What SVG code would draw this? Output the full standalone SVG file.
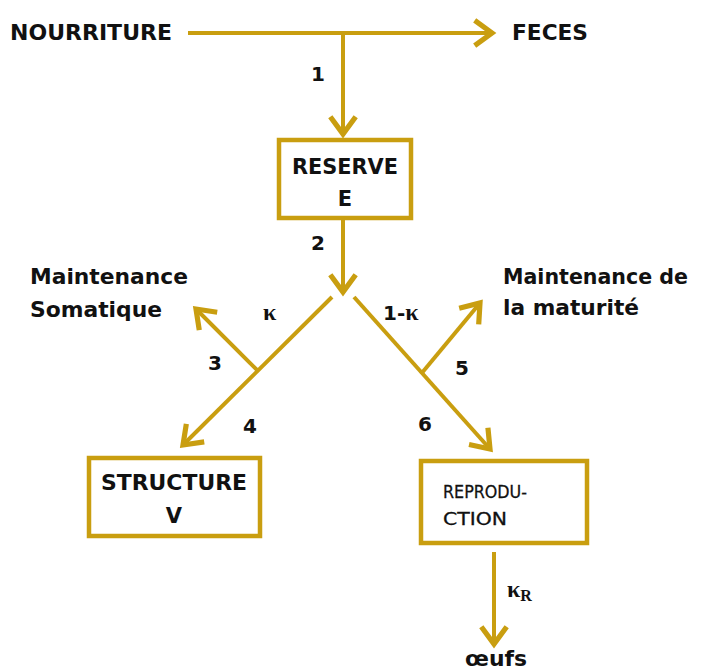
<svg xmlns="http://www.w3.org/2000/svg" width="703" height="671" viewBox="0 0 703 671">
<style>
.ln{stroke:#C99E10;stroke-width:4;fill:none}
.bx{stroke:#C99E10;stroke-width:4.5;fill:#fff}
.t{font-family:"DejaVu Sans",sans-serif;font-weight:bold;font-size:21px;fill:#111}
.r{font-family:"DejaVu Sans",sans-serif;font-size:17px;fill:#111;stroke:#111;stroke-width:0.3}
.n{font-family:"DejaVu Sans",sans-serif;font-weight:bold;font-size:20px;fill:#111}
.k{font-family:"Liberation Serif",serif;font-weight:bold;font-size:24px;fill:#111}
</style>
<defs>
<marker id="ah" markerUnits="userSpaceOnUse" markerWidth="30" markerHeight="30" viewBox="-18 -13 22 26" refX="0" refY="0" orient="auto">
<path d="M-15,-11 L0,0 L-15,11" stroke="#C99E10" stroke-width="4.5" fill="none" stroke-linejoin="miter"/>
</marker>
</defs>
<g id="connectors">
<line class="ln" x1="188" y1="33" x2="492" y2="33" marker-end="url(#ah)"/>
<line class="ln" x1="343" y1="33" x2="343" y2="134" marker-end="url(#ah)"/>
<line class="ln" x1="343" y1="218" x2="343" y2="292" marker-end="url(#ah)"/>
<line class="ln" x1="332" y1="297" x2="183" y2="445" marker-end="url(#ah)"/>
<line class="ln" x1="258" y1="371" x2="196" y2="309" marker-end="url(#ah)"/>
<line class="ln" x1="354" y1="297" x2="490" y2="449" marker-end="url(#ah)"/>
<line class="ln" x1="421" y1="374" x2="480" y2="303" marker-end="url(#ah)"/>
<line class="ln" x1="494" y1="552" x2="494" y2="644" marker-end="url(#ah)"/>
</g>
<g id="nourriture"><text class="t" x="10" y="40" textLength="162" lengthAdjust="spacingAndGlyphs">NOURRITURE</text></g>
<g id="feces"><text class="t" x="512" y="40" textLength="76" lengthAdjust="spacingAndGlyphs">FECES</text></g>
<g id="reserve">
<rect class="bx" x="279" y="140" width="132" height="78"/>
<text class="t" x="345" y="174" text-anchor="middle" textLength="106" lengthAdjust="spacingAndGlyphs">RESERVE</text>
<text class="t" x="345" y="206" text-anchor="middle">E</text>
</g>
<g id="structure">
<rect class="bx" x="89" y="458" width="171" height="78"/>
<text class="t" x="174" y="490" text-anchor="middle" textLength="146" lengthAdjust="spacingAndGlyphs">STRUCTURE</text>
<text class="t" x="174" y="523" text-anchor="middle">V</text>
</g>
<g id="reproduction">
<rect class="bx" x="421" y="461" width="166" height="82"/>
<text class="r" x="443" y="498" textLength="84" lengthAdjust="spacingAndGlyphs">REPRODU-</text>
<text class="r" x="443" y="525" textLength="64" lengthAdjust="spacingAndGlyphs">CTION</text>
</g>
<g id="maint-soma">
<text class="t" x="30" y="284" textLength="158" lengthAdjust="spacingAndGlyphs">Maintenance</text>
<text class="t" x="30" y="317" textLength="132" lengthAdjust="spacingAndGlyphs">Somatique</text>
</g>
<g id="maint-mat">
<text class="t" x="503" y="284" textLength="185" lengthAdjust="spacingAndGlyphs">Maintenance de</text>
<text class="t" x="503" y="315" textLength="136" lengthAdjust="spacingAndGlyphs">la maturité</text>
</g>
<g id="oeufs"><text class="t" x="496" y="666" text-anchor="middle" textLength="62" lengthAdjust="spacingAndGlyphs">œufs</text></g>
<g id="labels">
<text class="n" x="318" y="81" text-anchor="middle">1</text>
<text class="n" x="318" y="250" text-anchor="middle">2</text>
<text class="n" x="215" y="370" text-anchor="middle">3</text>
<text class="n" x="250" y="433" text-anchor="middle">4</text>
<text class="n" x="462" y="375" text-anchor="middle">5</text>
<text class="n" x="425" y="431" text-anchor="middle">6</text>
<text class="k" x="263" y="320">κ</text>
<text class="n" x="383" y="320">1-<tspan class="k">κ</tspan></text>
<text class="k" x="507" y="597">κ<tspan font-size="16" dy="4">R</tspan></text>
</g>
</svg>
